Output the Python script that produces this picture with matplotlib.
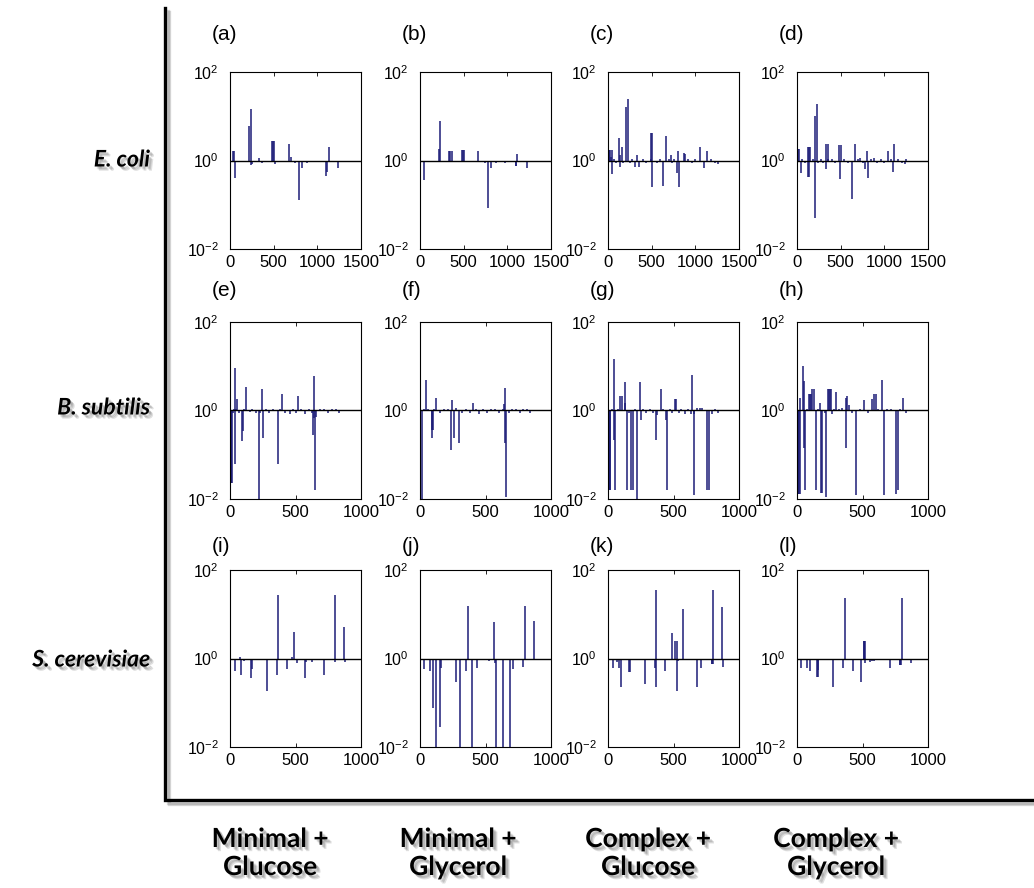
import numpy as np
import matplotlib
matplotlib.use('Agg')
import matplotlib.pyplot as plt
import matplotlib.patheffects as pe
from matplotlib.ticker import FixedLocator, LogFormatterMathtext, NullLocator

plt.rcParams['font.family'] = ['Liberation Sans', 'DejaVu Sans']
plt.rcParams['mathtext.default'] = 'regular'

organisms = ['E. coli', 'B. subtilis', 'S. cerevisiae']
conditions = ['Minimal +\nGlucose', 'Minimal +\nGlycerol', 'Complex +\nGlucose', 'Complex +\nGlycerol']
panel_tags = ['(a)', '(b)', '(c)', '(d)', '(e)', '(f)', '(g)', '(h)', '(i)', '(j)', '(k)', '(l)']
xmax_rows = [1500, 1000, 1000]
xticks_rows = [[0, 500, 1000, 1500], [0, 500, 1000], [0, 500, 1000]]

# E. coli
a_x = [40, 48, 55, 160, 222, 237, 241, 256, 337, 364, 486, 495, 505, 520, 543, 670, 700, 739, 785, 819, 880, 1102, 1110, 1133, 1232]
a_v = [1.6, 1.6, 0.4, 0.92, 5.9, 14.4, 0.8, 0.85, 1.13, 0.9, 2.7, 2.7, 2.7, 0.85, 0.92, 2.4, 1.2, 0.88, 0.127, 0.67, 0.88, 0.44, 0.55, 2.0, 0.67]
b_x = [50, 160, 214, 230, 337, 345, 364, 479, 492, 505, 660, 720, 739, 777, 808, 873, 976, 1095, 1102, 1110, 1225]
b_v = [0.37, 0.92, 1.8, 7.8, 1.6, 1.6, 1.6, 1.7, 1.7, 1.7, 1.6, 0.92, 0.86, 0.083, 0.67, 0.88, 0.88, 0.76, 0.76, 1.39, 0.67]
c_x = [8, 15, 25, 35, 46, 50, 70, 95, 123, 135, 140, 162, 175, 208, 227, 250, 280, 304, 335, 354, 400, 440, 488, 496, 504, 508, 560, 600, 631, 669, 700, 719, 730, 760, 785, 796, 815, 873, 880, 920, 960, 1000, 1054, 1096, 1131, 1180, 1220, 1258]
c_v = [1.7, 1.7, 1.7, 1.2, 1.7, 0.5, 1.1, 0.9, 3.2, 0.7, 1.3, 2.0, 0.9, 16.5, 25, 0.9, 1.1, 0.72, 1.3, 0.7, 1.1, 0.9, 4.2, 1.1, 0.25, 4.2, 0.9, 1.1, 0.27, 3.6, 1.1, 1.3, 0.88, 1.1, 0.53, 1.67, 0.25, 1.46, 1.4, 1.1, 0.9, 1.1, 2.0, 0.67, 1.6, 1.1, 0.9, 0.85]
d_x = [12, 25, 43, 60, 90, 124, 128, 138, 143, 151, 180, 210, 210, 229, 240, 270, 300, 337, 337, 350, 360, 400, 440, 480, 492, 500, 540, 580, 632, 667, 700, 717, 750, 775, 799, 815, 850, 880, 920, 960, 1000, 1047, 1080, 1101, 1116, 1160, 1200, 1236, 1248]
d_v = [1.8, 1.8, 0.53, 1.1, 0.9, 2.0, 0.42, 2.0, 0.42, 2.0, 1.1, 10.2, 0.049, 18.6, 0.88, 1.1, 0.9, 2.3, 0.65, 1.1, 2.3, 1.1, 0.9, 2.2, 0.39, 2.2, 1.1, 0.9, 0.138, 2.3, 1.1, 1.15, 0.9, 0.63, 1.6, 0.4, 1.1, 1.15, 0.9, 1.1, 0.9, 1.6, 1.1, 0.55, 2.3, 1.1, 0.9, 0.82, 1.1]

# B. subtilis
e_x = [2, 6, 10, 15, 20, 30, 38, 41, 46, 54, 70, 90, 97, 110, 123, 150, 170, 200, 220, 232, 246, 254, 275, 300, 330, 367, 380, 400, 420, 456, 480, 500, 520, 545, 572, 600, 625, 631, 640, 644, 651, 660, 690, 720, 750, 780, 810, 835]
e_v = [0.023, 0.023, 0.023, 0.023, 0.9, 1.1, 8.9, 0.062, 1.1, 1.78, 0.9, 0.2, 0.34, 1.1, 3.4, 0.92, 1.1, 0.9, 0.01, 0.9, 3.1, 0.24, 1.1, 0.88, 1.1, 0.062, 1.1, 2.3, 0.9, 0.82, 1.1, 0.9, 2.1, 1.1, 0.82, 1.1, 0.9, 0.28, 0.68, 6.0, 0.016, 0.7, 1.1, 1.1, 0.9, 1.1, 1.1, 0.9]
f_x = [0, 18, 30, 46, 60, 90, 94, 98, 110, 124, 150, 180, 210, 237, 245, 258, 271, 298, 320, 350, 380, 402, 430, 454, 480, 510, 540, 570, 600, 630, 640, 647, 647, 657, 680, 700, 730, 760, 790, 820, 839]
f_v = [0.01, 0.01, 1.1, 4.8, 1.1, 0.37, 0.24, 0.37, 1.1, 1.93, 0.9, 1.1, 1.1, 0.13, 1.77, 0.24, 1.15, 0.18, 0.9, 1.1, 0.9, 1.5, 1.1, 0.82, 1.1, 0.9, 1.1, 1.1, 0.9, 1.1, 1.37, 3.3, 0.186, 0.011, 0.9, 1.1, 1.1, 0.9, 1.1, 1.1, 0.9]
g_x = [0, 4, 8, 12, 18, 30, 44, 49, 56, 75, 95, 108, 126, 133, 146, 160, 179, 190, 205, 223, 243, 254, 270, 290, 320, 340, 367, 375, 402, 420, 441, 449, 470, 490, 510, 518, 540, 560, 590, 610, 630, 641, 654, 660, 680, 700, 720, 756, 774, 795, 815, 838]
g_v = [0.016, 0.016, 0.016, 0.016, 0.016, 1.1, 14.3, 0.21, 0.016, 1.1, 2.1, 2.1, 4.4, 1.5, 0.016, 0.9, 0.016, 0.016, 1.1, 0.01, 4.4, 0.6, 1.1, 0.9, 1.1, 0.9, 0.21, 0.8, 3.0, 1.1, 0.6, 0.016, 1.1, 0.9, 1.78, 1.78, 0.9, 1.1, 0.85, 1.1, 0.85, 6.3, 0.0125, 0.82, 1.15, 1.15, 1.15, 0.016, 0.016, 0.85, 1.1, 0.9]
h_x = [0, 5, 10, 15, 20, 26, 44, 51, 56, 59, 75, 90, 97, 104, 115, 128, 146, 160, 179, 185, 192, 210, 225, 238, 245, 250, 256, 265, 280, 297, 320, 340, 372, 372, 385, 400, 420, 449, 480, 513, 540, 569, 590, 603, 620, 649, 662, 690, 720, 756, 769, 790, 808, 833]
h_v = [0.013, 0.013, 0.013, 0.013, 0.013, 1.87, 10, 0.14, 4.6, 0.016, 1.1, 2.4, 2.4, 2.4, 3.0, 3.0, 0.016, 1.1, 1.5, 0.014, 0.014, 0.9, 0.011, 3.0, 3.0, 3.0, 3.0, 0.85, 1.1, 2.6, 1.1, 1.15, 1.9, 0.14, 2.1, 1.3, 0.9, 0.012, 1.1, 1.7, 0.9, 1.8, 2.4, 2.4, 1.1, 4.8, 0.012, 1.1, 1.1, 0.013, 0.016, 1.1, 1.9, 0.9]

# S. cerevisiae
i_x = [38, 77, 84, 110, 158, 168, 281, 357, 370, 434, 472, 492, 510, 569, 579, 625, 714, 798, 800, 867, 880]
i_v = [0.52, 1.1, 0.42, 0.88, 0.37, 0.59, 0.185, 0.42, 27.3, 0.57, 1.1, 3.9, 0.8, 0.37, 0.85, 0.83, 0.42, 27.3, 0.85, 5.1, 0.85]
j_x = [31, 77, 103, 123, 154, 162, 277, 308, 354, 364, 397, 436, 526, 564, 572, 579, 636, 687, 713, 790, 800, 867]
j_v = [0.57, 0.52, 0.076, 0.01, 0.029, 0.62, 0.29, 0.01, 0.52, 15.5, 0.01, 0.62, 0.88, 6.6, 0.8, 0.01, 0.01, 0.01, 0.57, 0.64, 15.5, 7.2]
k_x = [36, 69, 82, 103, 159, 165, 279, 359, 369, 369, 436, 487, 513, 523, 526, 531, 569, 679, 710, 792, 797, 803, 803, 869, 879]
k_v = [0.62, 0.85, 0.62, 0.23, 0.49, 0.5, 0.27, 0.62, 34.8, 0.23, 0.52, 3.8, 2.44, 2.44, 0.18, 0.88, 13.1, 0.23, 0.62, 0.75, 0.75, 34.8, 0.75, 14.3, 0.65]
l_x = [33, 77, 97, 154, 158, 162, 277, 354, 367, 431, 490, 508, 513, 518, 521, 559, 570, 585, 708, 785, 790, 795, 798, 872]
l_v = [0.62, 0.62, 0.53, 0.39, 0.39, 0.55, 0.23, 0.62, 22.7, 0.52, 0.29, 2.44, 2.44, 2.44, 0.8, 0.85, 0.88, 0.9, 0.62, 0.71, 0.71, 0.71, 22.7, 0.81]

panels = [(a_x, a_v), (b_x, b_v), (c_x, c_v), (d_x, d_v),
          (e_x, e_v), (f_x, f_v), (g_x, g_v), (h_x, h_v),
          (i_x, i_v), (j_x, j_v), (k_x, k_v), (l_x, l_v)]

W, H = 1034, 888
fig = plt.figure(figsize=(W / 100, H / 100), dpi=100)

def fx(px):
    return px / W

def fy(py):
    return 1 - py / H

col_left = [230, 420, 608, 797]
row_top = [72, 322, 570]
ax_w, ax_h = 131, 177
tag_y = [35, 290, 546]
stem_col = '#1c1c78'

for r in range(3):
    for c in range(4):
        k = r * 4 + c
        xs, vs = panels[k]
        ax = fig.add_axes([fx(col_left[c]), fy(row_top[r] + ax_h), ax_w / W, ax_h / H])
        ax.set_yscale('log')
        ax.set_ylim(1e-2, 1e2)
        ax.set_xlim(0, xmax_rows[r])
        ax.vlines(xs, 1, vs, color=stem_col, lw=1.1, zorder=2)
        ax.axhline(1, color='k', lw=1.0, zorder=3)
        ax.yaxis.set_major_locator(FixedLocator([1e-2, 1, 1e2]))
        ax.yaxis.set_major_formatter(LogFormatterMathtext())
        ax.yaxis.set_minor_locator(NullLocator())
        ax.set_xticks(xticks_rows[r])
        ax.tick_params(direction='in', top=True, right=True, length=3, width=0.6)
        ax.tick_params(axis='x', labelsize=12, pad=4)
        ax.tick_params(axis='y', labelsize=11.5, pad=8)
        for sp in ax.spines.values():
            sp.set_linewidth(0.8)
        fig.text(fx(col_left[c] - 18), fy(tag_y[r]), panel_tags[k], fontsize=15,
                 ha='left', va='center')

# soft drop shadow for the outer frame and the category labels
shadow_txt = [pe.SimplePatchShadow(offset=(o, -o), shadow_rgbFace='k', alpha=0.12)
              for o in (3.0, 2.2, 1.5)] + [pe.Normal()]
shadow_ln = [pe.SimpleLineShadow(offset=(o, -o), shadow_color='k', alpha=0.15)
             for o in (3.0, 2.0)] + [pe.Normal()]

frame = fig.add_axes([0, 0, 1, 1], facecolor='none')
frame.set_xlim(0, W)
frame.set_ylim(H, 0)
frame.axis('off')
frame.plot([165, 165, W], [8, 800, 800], color='k', lw=2.4,
           solid_joinstyle='miter', path_effects=shadow_ln)

row_y = [160, 408, 660]
for name, y in zip(organisms, row_y):
    frame.text(150, y, name, fontsize=16.5, fontweight='bold', fontstyle='italic',
               family=['Lato', 'DejaVu Sans'], ha='right', va='center',
               path_effects=shadow_txt)

cond_x = [270, 458, 648, 836]
for name, x in zip(conditions, cond_x):
    frame.text(x, 853, name, fontsize=19, fontweight='bold',
               family=['Lato', 'DejaVu Sans'], ha='center', va='center',
               linespacing=1.2, path_effects=shadow_txt)

fig.savefig('out.png', dpi=100)
